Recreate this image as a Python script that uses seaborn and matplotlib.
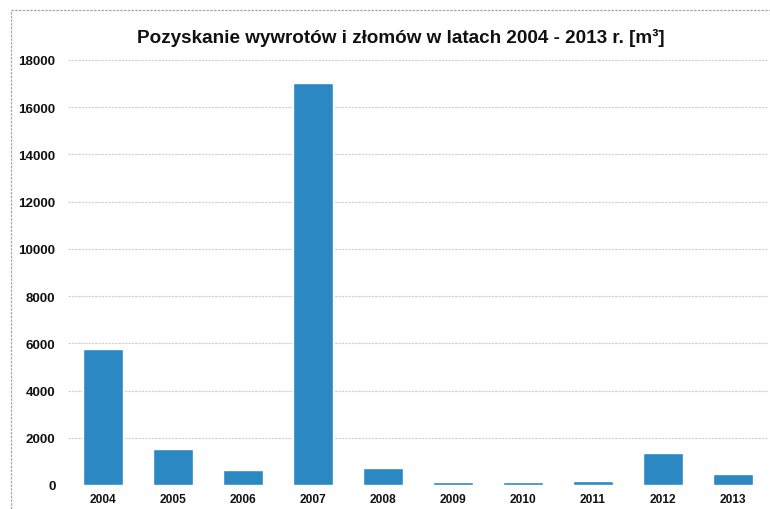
import matplotlib
matplotlib.use("Agg")
import matplotlib.pyplot as plt
from matplotlib.lines import Line2D
import pandas as pd
import seaborn as sns

# Windthrow and broken-tree timber harvested per year [m3]
years = ["2004", "2005", "2006", "2007", "2008", "2009", "2010", "2011", "2012", "2013"]
volumes = [5750, 1520, 630, 17020, 730, 110, 140, 150, 1350, 470]
y_ticks = [0, 2000, 4000, 6000, 8000, 10000, 12000, 14000, 16000, 18000]
title = "Pozyskanie wywrotów i złomów w latach 2004 - 2013 r. [m³]"

sns.set_theme(style="white")
plt.rcParams["font.family"] = ["Liberation Sans", "DejaVu Sans"]

df = pd.DataFrame({"rok": years, "m3": volumes})

fig = plt.figure(figsize=(7.7, 5.1), dpi=100)
ax = fig.add_axes([68 / 770, 24 / 510, 700 / 770, 425 / 510])

sns.barplot(data=df, x="rok", y="m3", color="#2b88c2", saturation=1,
            width=0.57, ax=ax, zorder=3)

ax.set_ylim(0, 18000)
ax.set_xlim(-0.5, len(years) - 0.5)
ax.set_yticks(y_ticks)
ax.set_yticklabels([str(t) for t in y_ticks], fontsize=9.6, fontweight="bold",
                   color="#111111")
ax.tick_params(axis="x", labelsize=8.6, pad=6, length=0, labelcolor="#111111")
ax.tick_params(axis="y", pad=9, length=0)
for lbl in ax.get_xticklabels():
    lbl.set_fontweight("bold")
ax.set_xlabel("")
ax.set_ylabel("")
ax.yaxis.grid(True, color="#cfcfcf", linestyle=(0, (2, 1)), linewidth=0.8, zorder=0)
ax.xaxis.grid(False)
for s in ax.spines.values():
    s.set_visible(False)

fig.text(401 / 770, 1 - 38 / 510, title, ha="center", va="center",
         fontsize=13.6, fontweight="bold", color="#111111")

# dashed chart-area frame along the top and left edges
frame = dict(color="#a8a8a8", linestyle=(0, (2, 1)), linewidth=0.9)
fig.add_artist(Line2D([11 / 770, 1.0], [1 - 11 / 510, 1 - 11 / 510], **frame))
fig.add_artist(Line2D([11 / 770, 11 / 770], [0.0, 1 - 11 / 510], **frame))

fig.savefig("out.png", dpi=100, facecolor="white")
